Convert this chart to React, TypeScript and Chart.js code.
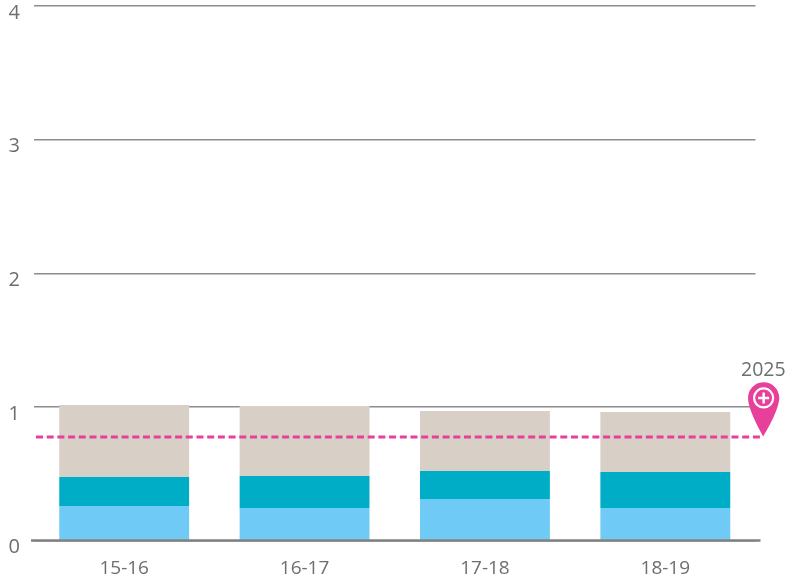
import React, { useEffect, useRef } from "react";
import { Chart, registerables } from "chart.js";

Chart.register(...registerables);

const categories = ["15-16", "16-17", "17-18", "18-19"];
const lightBlue = [0.258, 0.243, 0.31, 0.243];
const teal = [0.217, 0.24, 0.21, 0.27];
const beige = [0.539, 0.524, 0.449, 0.449];
const target = 0.775;
const targetStart = -0.489;
const targetEnd = 3.544;
const targetLabel = "2025";
const yTicks = [0, 1, 2, 3, 4];

const GREY = "#6d6e70";
const PINK = "#e8409a";
const FONT = "'Open Sans'";

const overlay = {
  id: "overlay",
  afterDatasetsDraw(chart: any) {
    const { ctx, chartArea, scales } = chart;
    const y0 = scales.y.getPixelForValue(0);
    ctx.save();
    ctx.strokeStyle = "#808080";
    ctx.lineWidth = 2.5;
    ctx.beginPath();
    ctx.moveTo(chartArea.left - 3, y0);
    ctx.lineTo(chartArea.right + 5, y0);
    ctx.stroke();

    const tipX = scales.x2.getPixelForValue(targetEnd) - 0.3;
    const tipY = scales.y.getPixelForValue(target) - 0.5;
    const cx = tipX + 0.5;
    const cy = tipY - 38.5;
    const r = 15.6;
    ctx.fillStyle = PINK;
    ctx.beginPath();
    ctx.arc(cx, cy, r, Math.PI * 1.02 - 0.1, Math.PI * 0.02 + 0.1, false);
    ctx.quadraticCurveTo(cx + r - 2, cy + 15, tipX, tipY);
    ctx.quadraticCurveTo(cx - r + 2, cy + 15, cx - r + 0.2, cy + 3);
    ctx.closePath();
    ctx.fill();
    ctx.strokeStyle = "#fff";
    ctx.lineWidth = 2.2;
    ctx.beginPath();
    ctx.arc(cx, cy, 9.5, 0, Math.PI * 2);
    ctx.stroke();
    ctx.lineWidth = 2.4;
    ctx.beginPath();
    ctx.moveTo(cx - 5.5, cy);
    ctx.lineTo(cx + 5.5, cy);
    ctx.moveTo(cx, cy - 5.5);
    ctx.lineTo(cx, cy + 5.5);
    ctx.stroke();

    ctx.fillStyle = GREY;
    ctx.font = `19.5px ${FONT}`;
    ctx.textAlign = "center";
    ctx.textBaseline = "alphabetic";
    ctx.fillText(targetLabel, cx - 0.3, cy - 22);
    ctx.restore();
  },
};

export default function App() {
  const ref = useRef<HTMLCanvasElement>(null);
  useEffect(() => {
    const barDs = (label: string, data: number[], color: string) => ({
      type: "bar" as const,
      label,
      data,
      backgroundColor: color,
      borderWidth: 0,
      stack: "s",
      order: 1,
      grouped: false,
      barPercentage: 1,
      categoryPercentage: 0.72,
      xAxisID: "x",
    });
    const chart = new Chart(ref.current!, {
      type: "bar",
      data: {
        labels: categories,
        datasets: [
          barDs("a", lightBlue, "#6fcbf5"),
          barDs("b", teal, "#00adc6"),
          barDs("c", beige, "#d8cfc6"),
          {
            type: "line" as const,
            label: "target",
            data: [
              { x: targetStart, y: target },
              { x: targetEnd, y: target },
            ],
            xAxisID: "x2",
            borderColor: PINK,
            borderWidth: 3,
            borderDash: [7, 3.7],
            pointRadius: 0,
            clip: false,
            order: 0,
          } as any,
        ],
      },
      options: {
        responsive: false,
        animation: false,
        layout: { autoPadding: false, padding: { top: 6, right: 29.5, left: 0, bottom: 0 } },
        plugins: { legend: { display: false }, tooltip: { enabled: false } },
        scales: {
          x: {
            stacked: true,
            grid: { display: false },
            border: { display: false },
            ticks: { color: GREY, font: { family: FONT, size: 19 }, padding: 9, maxRotation: 0 },
            afterFit: (s: any) => {
              s.height = 40.5;
              s.paddingLeft = 0;
              s.paddingRight = 0;
            },
          },
          x2: { type: "linear", display: false, offset: false, min: -0.5, max: 3.5 },
          y: {
            stacked: true,
            min: 0,
            max: 4,
            afterBuildTicks: (s: any) => { s.ticks = yTicks.map((value) => ({ value })); },
            grid: { color: "#8c8c8c", lineWidth: 1.4, drawTicks: false },
            border: { display: false },
            ticks: { color: GREY, font: { family: FONT, size: 20 }, padding: 14, labelOffset: 7 },
            afterFit: (s: any) => {
              s.width = 34;
              s.paddingTop = 0;
              s.paddingBottom = 0;
            },
          },
        },
      },
      plugins: [overlay],
    } as any);
    return () => chart.destroy();
  }, []);
  return (
    <canvas
      ref={ref}
      width={785}
      height={581}
      style={{ position: "fixed", left: 0, top: 0, display: "block" }}
    />
  );
}
